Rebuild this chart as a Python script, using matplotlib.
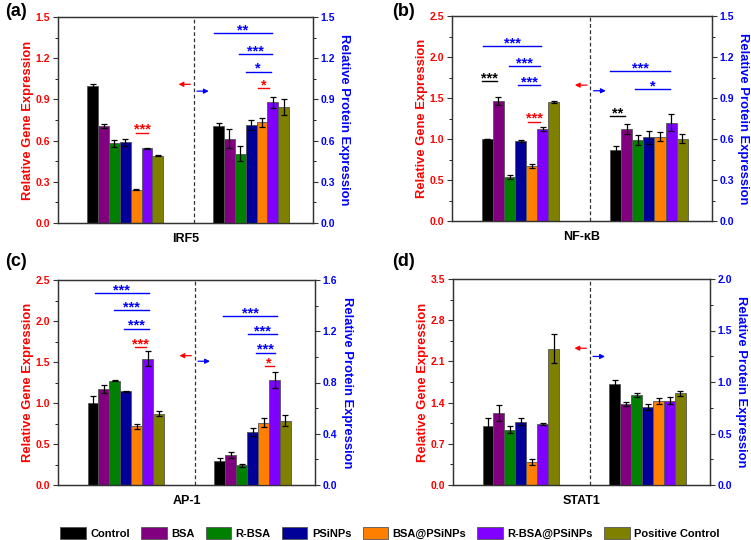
import numpy as np
import matplotlib
matplotlib.use("Agg")
import matplotlib.pyplot as plt
from matplotlib.patches import Patch
from matplotlib.ticker import MultipleLocator, AutoMinorLocator

plt.rcParams['font.family'] = ['Liberation Sans', 'DejaVu Sans']
plt.rcParams['font.weight'] = 'bold'

# groups / colours
samples = ['Control', 'BSA', 'R-BSA', 'PSiNPs', 'BSA@PSiNPs', 'R-BSA@PSiNPs', 'Positive Control']
colors = ['#000000', '#800080', '#008000', '#000099', '#ff8000', '#8000ff', '#808000']
genes = ['IRF5', 'NF-\u03baB', 'AP-1', 'STAT1']
letters = ['(a)', '(b)', '(c)', '(d)']

# relative gene expression (left axis) and errors
gene_irf5 = [1.00, 0.706, 0.58, 0.587, 0.243, 0.545, 0.49]
gene_irf5_err = [0.015, 0.015, 0.025, 0.025, 0.005, 0.003, 0.003]
gene_nfkb = [1.00, 1.466, 0.537, 0.977, 0.672, 1.12, 1.45]
gene_nfkb_err = [0.005, 0.05, 0.02, 0.01, 0.025, 0.025, 0.01]
gene_ap1 = [1.00, 1.173, 1.274, 1.141, 0.714, 1.54, 0.871]
gene_ap1_err = [0.08, 0.045, 0.01, 0.005, 0.035, 0.09, 0.03]
gene_stat1 = [1.003, 1.224, 0.941, 1.071, 0.385, 1.037, 2.318]
gene_stat1_err = [0.13, 0.13, 0.06, 0.06, 0.05, 0.01, 0.25]

# relative protein expression (right axis) and errors
prot_irf5 = [0.706, 0.614, 0.506, 0.713, 0.733, 0.881, 0.845]
prot_irf5_err = [0.025, 0.07, 0.055, 0.035, 0.035, 0.04, 0.06]
prot_nfkb = [0.52, 0.674, 0.591, 0.611, 0.618, 0.72, 0.603]
prot_nfkb_err = [0.03, 0.035, 0.035, 0.045, 0.035, 0.06, 0.03]
prot_ap1 = [0.187, 0.233, 0.153, 0.414, 0.487, 0.819, 0.503]
prot_ap1_err = [0.02, 0.025, 0.01, 0.03, 0.035, 0.06, 0.04]
prot_stat1 = [0.985, 0.784, 0.878, 0.758, 0.813, 0.82, 0.891]
prot_stat1_err = [0.03, 0.02, 0.02, 0.03, 0.03, 0.035, 0.025]

# axis limits / ticks (left, right)
gene_lim = [(1.5, 0.3), (2.5, 0.5), (2.5, 0.5), (3.5, 0.7)]
prot_lim = [(1.5, 0.3), (1.5, 0.3), (1.6, 0.4), (2.0, 0.5)]

# significance bars: (group, from bar, to bar, height, label, colour)
sig_irf5 = [(0, 4.0, 5.08, 0.657, '***', 'red'),
            (1, -0.4, 4.92, 1.38, '**', 'blue'),
            (1, 1.86, 4.92, 1.232, '***', 'blue'),
            (1, 2.5, 4.8, 1.103, '*', 'blue'),
            (1, 3.6, 4.67, 0.98, '*', 'red')]
sig_nfkb = [(0, -0.4, 4.86, 2.13, '***', 'blue'),
            (0, 1.95, 4.77, 1.885, '***', 'blue'),
            (0, 2.8, 4.77, 1.66, '***', 'blue'),
            (0, -0.48, 0.9, 1.706, '***', 'black'),
            (0, 3.66, 4.77, 1.213, '***', 'red'),
            (1, -0.48, 0.81, 0.765, '**', 'black'),
            (1, -0.48, 4.86, 1.097, '***', 'blue'),
            (1, 1.77, 4.86, 0.963, '*', 'blue')]
sig_ap1 = [(0, 0.18, 5.1, 2.343, '***', 'blue'),
           (0, 1.96, 5.1, 2.133, '***', 'blue'),
           (0, 2.87, 5.1, 1.907, '***', 'blue'),
           (0, 3.8, 4.86, 1.677, '***', 'red'),
           (1, 0.28, 5.26, 1.319, '***', 'blue'),
           (1, 2.57, 5.26, 1.176, '***', 'blue'),
           (1, 3.3, 5.08, 1.034, '***', 'blue'),
           (1, 4.1, 4.92, 0.927, '*', 'red')]
sig_stat1 = []

# arrow heights (red on left axis, blue on right axis)
arrow_y = [(1.01, 0.96), (1.657, 0.953), (1.577, 0.966), (2.324, 1.248)]

gene_vals = [gene_irf5, gene_nfkb, gene_ap1, gene_stat1]
gene_errs = [gene_irf5_err, gene_nfkb_err, gene_ap1_err, gene_stat1_err]
prot_vals = [prot_irf5, prot_nfkb, prot_ap1, prot_stat1]
prot_errs = [prot_irf5_err, prot_nfkb_err, prot_ap1_err, prot_stat1_err]
sigs = [sig_irf5, sig_nfkb, sig_ap1, sig_stat1]

W, H = 751, 540
fig = plt.figure(figsize=(W / 100, H / 100), dpi=100)

# axes boxes in pixels: left, right, top, bottom
boxes = [(58, 313, 17, 223), (452, 712, 16, 221), (58, 315, 280, 485), (453, 710, 279, 485)]

x1 = np.arange(7)
x2 = np.arange(7) + 11.6
spine_c = '#333333'

for i in range(4):
    l, r, t, b = boxes[i]
    ax = fig.add_axes([l / W, 1 - b / H, (r - l) / W, (b - t) / H])
    ax2 = ax.twinx()

    ax.bar(x1, gene_vals[i], width=1.0, color=colors, edgecolor='#555555', linewidth=0.6,
           yerr=gene_errs[i], error_kw=dict(ecolor='black', elinewidth=0.9, capsize=2.5, capthick=0.9))
    ax2.bar(x2, prot_vals[i], width=1.0, color=colors, edgecolor='#555555', linewidth=0.6,
            yerr=prot_errs[i], error_kw=dict(ecolor='black', elinewidth=0.9, capsize=2.5, capthick=0.9))

    gmax, gstep = gene_lim[i]
    pmax, pstep = prot_lim[i]
    ax.set_ylim(0, gmax)
    ax2.set_ylim(0, pmax)
    ax.set_xlim(-3.2, 20.3)
    ax.yaxis.set_major_locator(MultipleLocator(gstep))
    ax2.yaxis.set_major_locator(MultipleLocator(pstep))
    ax.yaxis.set_minor_locator(AutoMinorLocator(2))
    ax2.yaxis.set_minor_locator(AutoMinorLocator(2))
    ax.yaxis.set_major_formatter(plt.FormatStrFormatter('%.1f'))
    ax2.yaxis.set_major_formatter(plt.FormatStrFormatter('%.1f'))
    ax.set_xticks([])

    ax.tick_params(axis='y', colors=spine_c, labelcolor='red', labelsize=7.5, length=3.5, width=0.8, pad=2)
    ax.tick_params(axis='y', which='minor', length=2, width=0.6)
    ax2.tick_params(axis='y', colors=spine_c, labelcolor='blue', labelsize=7.5, length=3.5, width=0.8, pad=2)
    ax2.tick_params(axis='y', which='minor', length=2, width=0.6)
    for a in (ax, ax2):
        for s in a.spines.values():
            s.set_color(spine_c)
            s.set_linewidth(0.9)

    ax.set_ylabel('Relative Gene Expression', color='red', fontsize=9.4, fontweight='bold', labelpad=1)
    ax2.set_ylabel('Relative Protein Expression', color='blue', fontsize=9.4, fontweight='bold',
                   rotation=270, labelpad=11)
    ax.set_xlabel(genes[i], fontsize=9, fontweight='bold', labelpad=7)

    ax.axvline(9.3, color='#333333', linestyle='--', linewidth=0.9, dashes=(3, 2))

    # arrows
    ry, by = arrow_y[i]
    ax.annotate('', xy=(7.65, ry), xytext=(9.25, ry),
                arrowprops=dict(arrowstyle='-|>', color='red', lw=0.9, mutation_scale=7))
    ax2.annotate('', xy=(10.95, by), xytext=(9.35, by),
                 arrowprops=dict(arrowstyle='-|>', color='blue', lw=0.9, mutation_scale=7))

    # significance marks
    for grp, s0, s1, y, txt, c in sigs[i]:
        a = ax if grp == 0 else ax2
        off = 0 if grp == 0 else 11.6
        a.plot([s0 + off, s1 + off], [y, y], color=c, lw=1.0)
        a.annotate(txt, xy=((s0 + s1) / 2 + off, y), xytext=(0, -3), textcoords='offset points',
                   ha='center', va='bottom', color=c, fontsize=10.5, fontweight='bold')

    fig.text((5 if i % 2 == 0 else 392) / W, 1 - (12 if i < 2 else 262) / H, letters[i],
             fontsize=13, fontweight='bold', va='center', ha='left')

handles = [Patch(facecolor=c, edgecolor='#555555', linewidth=0.6) for c in colors]
fig.legend(handles, samples, loc='center', bbox_to_anchor=(390 / W, 1 - 533 / H), ncol=7,
           frameon=False, handlelength=2.3, handleheight=1.2, handletextpad=0.4,
           columnspacing=1.0, prop=dict(weight='bold', size=8))

fig.savefig('out.png', dpi=100)
